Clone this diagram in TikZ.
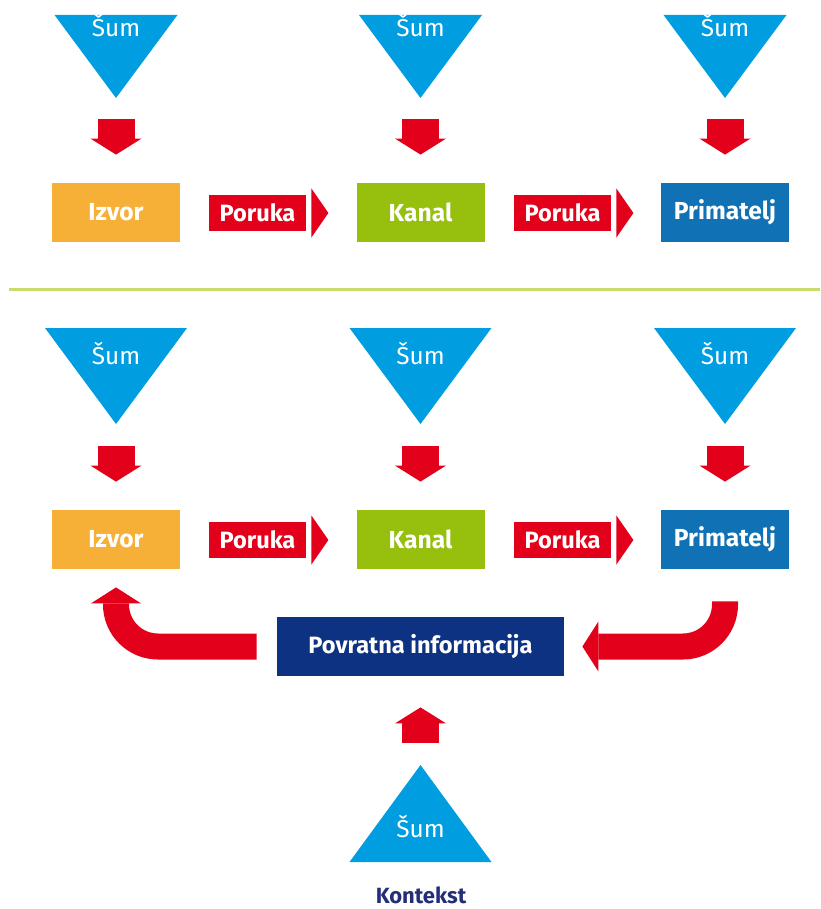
\documentclass[tikz,border=0pt]{standalone}
\usepackage{fontspec}
\setmainfont{Fira Sans}
\usetikzlibrary{arrows.meta}
\definecolor{noise}{RGB}{0,158,224}
\definecolor{signal}{RGB}{226,0,26}
\definecolor{source}{RGB}{247,176,55}
\definecolor{channel}{RGB}{151,191,13}
\definecolor{receiver}{RGB}{16,113,181}
\definecolor{feedback}{RGB}{14,50,130}
\definecolor{context}{RGB}{35,45,120}
\definecolor{divider}{RGB}{200,220,110}

\begin{document}
\begin{tikzpicture}[x=0.5pt, y=-0.5pt]
            \tikzset{box/.style={minimum width=64pt, minimum height=29.5pt, inner sep=0pt, text=white, font={\fontsize{12.3}{14}\selectfont\bfseries}}};
            \tikzset{message/.style={fill=signal, minimum width=48.5pt, minimum height=18pt, inner sep=0pt, text=white, font={\fontsize{11.8}{13}\selectfont\bfseries}}};
            \tikzset{noise label/.style={anchor=base, inner sep=0pt, text=white, font={\fontsize{12.2}{13}\selectfont}}};
            \tikzset{noise arrow/.style={draw=signal, line width=18.5pt, -{Triangle[width=25.5pt, length=8pt, line width=0pt]}}};
            \tikzset{feedback arrow/.style={draw=signal, line width=13pt, rounded corners=21pt, -{Triangle[width=25pt, length=8pt, line width=0pt]}}};
            \useasboundingbox (0,0) rectangle (820,909);
            % Top model: noise
            \fill[noise] (54.5,15) -- (177.5,15) -- (116,98) -- cycle;
            \fill[noise] (359,15) -- (482,15) -- (420.5,98) -- cycle;
            \fill[noise] (663.5,15) -- (786.5,15) -- (725,98) -- cycle;
            \node[noise label] (sumA) at (116,37) {Šum};
            \node[noise label] (sumB) at (420.5,37) {Šum};
            \node[noise label] (sumC) at (725,37) {Šum};
            \coordinate (tipA) at (116,98);
            \coordinate (tipB) at (420.5,98);
            \coordinate (tipC) at (725,98);
            % Top model: boxes
            \node[box, fill=source] (izvorA) at (116,212.5) {Izvor};
            \node[box, fill=channel] (kanalA) at (420.5,212.5) {Kanal};
            \node[box, fill=receiver] (primA) at (725,212.5) {Primatelj};
            \draw[noise arrow] ([yshift=-10.5pt]tipA) -- ([yshift=14pt]izvorA.north);
            \draw[noise arrow] ([yshift=-10.5pt]tipB) -- ([yshift=14pt]kanalA.north);
            \draw[noise arrow] ([yshift=-10.5pt]tipC) -- ([yshift=14pt]primA.north);
            % Top model: messages
            \node[message] (msgA) at (257.5,213) {Poruka};
            \node[message] (msgB) at (562.5,213) {Poruka};
            \fill[signal] ([xshift=2.5pt]msgA.east) ++(0,12.25pt) -- ++(8.5pt,-12.25pt) -- ++(-8.5pt,-12.25pt) -- cycle;
            \fill[signal] ([xshift=2.5pt]msgB.east) ++(0,12.25pt) -- ++(8.5pt,-12.25pt) -- ++(-8.5pt,-12.25pt) -- cycle;
            % Divider
            \draw[divider, line width=1.5pt] (9,289) -- (820,289);
            % Bottom model: noise
            \fill[noise] (45,328) -- (187,328) -- (116,424) -- cycle;
            \fill[noise] (349.5,328) -- (491.5,328) -- (420.5,424) -- cycle;
            \fill[noise] (654,328) -- (796,328) -- (725,424) -- cycle;
            \node[noise label] (sumD) at (116,364) {Šum};
            \node[noise label] (sumE) at (420.5,364) {Šum};
            \node[noise label] (sumF) at (725,364) {Šum};
            \coordinate (tipD) at (116,424);
            \coordinate (tipE) at (420.5,424);
            \coordinate (tipF) at (725,424);
            % Bottom model: boxes
            \node[box, fill=source] (izvorB) at (116,539.5) {Izvor};
            \node[box, fill=channel] (kanalB) at (420.5,539.5) {Kanal};
            \node[box, fill=receiver] (primB) at (725,539.5) {Primatelj};
            \draw[noise arrow] ([yshift=-11pt]tipD) -- ([yshift=14pt]izvorB.north);
            \draw[noise arrow] ([yshift=-11pt]tipE) -- ([yshift=14pt]kanalB.north);
            \draw[noise arrow] ([yshift=-11pt]tipF) -- ([yshift=14pt]primB.north);
            % Bottom model: messages
            \node[message] (msgC) at (257.5,540) {Poruka};
            \node[message] (msgD) at (562.5,540) {Poruka};
            \fill[signal] ([xshift=2.5pt]msgC.east) ++(0,12.25pt) -- ++(8.5pt,-12.25pt) -- ++(-8.5pt,-12.25pt) -- cycle;
            \fill[signal] ([xshift=2.5pt]msgD.east) ++(0,12.25pt) -- ++(8.5pt,-12.25pt) -- ++(-8.5pt,-12.25pt) -- cycle;
            % Feedback
            \node[box, fill=feedback, minimum width=143.5pt, font={\fontsize{11.8}{13}\selectfont\bfseries}] (pov) at (420.5,646.5) {Povratna informacija};
            \draw[feedback arrow] ([xshift=-10pt]pov.west) -| ([yshift=-9pt]izvorB.south);
            \draw[feedback arrow] ([yshift=-16pt]primB.south) |- ([xshift=9pt]pov.east);
            % Context
            \fill[noise] (420.5,765) -- (491.5,862) -- (349.5,862) -- cycle;
            \node[noise label] (sumG) at (420.5,837) {Šum};
            \coordinate (tipG) at (420.5,765);
            \draw[noise arrow] ([yshift=11pt]tipG) -- ([yshift=-15.5pt]pov.south);
            \node[anchor=base, inner sep=0pt, text=context, font={\fontsize{11}{12}\selectfont\bfseries}] (kontekst) at (421,903) {Kontekst};
\end{tikzpicture}
\end{document}
